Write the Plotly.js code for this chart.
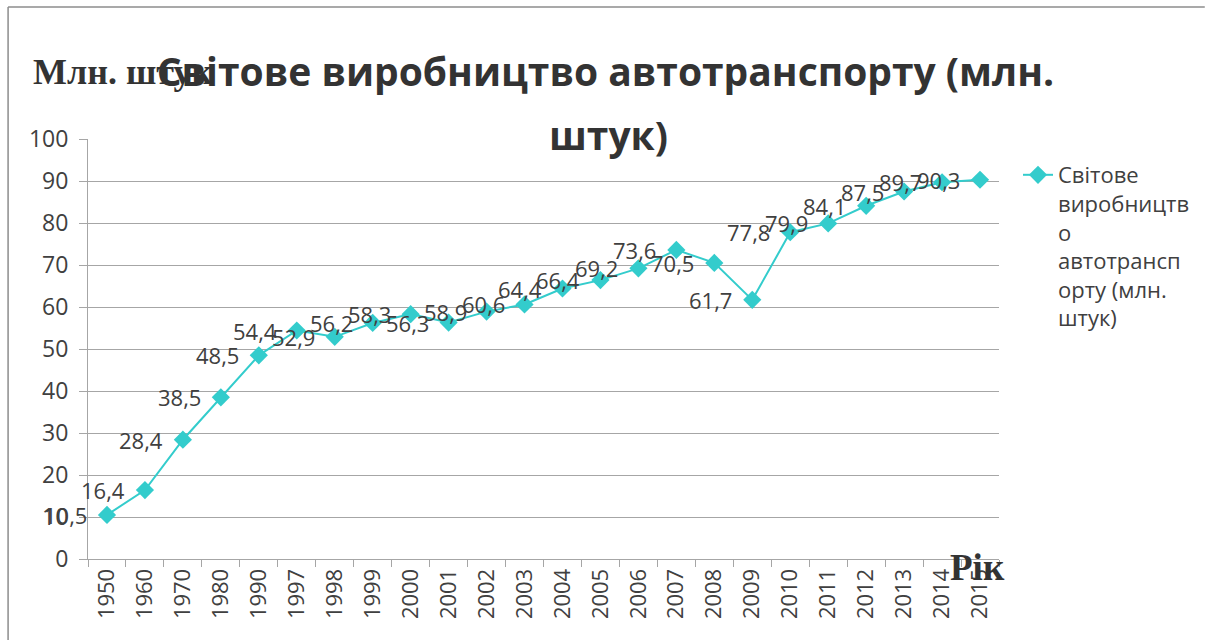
<!DOCTYPE html>
<html>
<head>
<meta charset="utf-8">
<script src="https://cdn.plot.ly/plotly-3.0.1.min.js"></script>
<style>html,body{margin:0;padding:0;background:#fff;}#chart{width:1206px;height:640px;}</style>
</head>
<body>
<div id="chart"></div>
<script>
const years = ['1950','1960','1970','1980','1990','1997','1998','1999','2000','2001','2002','2003','2004','2005','2006','2007','2008','2009','2010','2011','2012','2013','2014','2015'];
const production = [10.5,16.4,28.4,38.5,48.5,54.4,52.9,56.2,58.3,56.3,58.9,60.6,64.4,66.4,69.2,73.6,70.5,61.7,77.8,79.9,84.1,87.5,89.7,90.3];
const seriesName = 'Світове<br>виробництв<br>о<br>автотрансп<br>орту (млн.<br>штук)';
const titleLine1 = 'Світове виробництво автотранспорту (млн.';
const titleLine2 = 'штук)';
const yTitle = 'Млн. штук';
const xTitle = 'Рік';

const W = 1206, H = 640;
const L = 88, R = 1000, T = 139, B = 559;
const px2x = p => (p - L) / (R - L);
const px2y = p => (B - p) / (B - T);

const teal = '#33CCCC';
const txt = '#404040';
const grid = '#A6A6A6';
const sans = 'Open Sans, Noto Sans, sans-serif';
const serif = 'Liberation Serif, Times New Roman, serif';

const trace = {
  type: 'scatter', mode: 'lines+markers',
  x: years, y: production, name: seriesName,
  line: {color: teal, width: 2},
  marker: {symbol: 'diamond', size: 14, color: teal},
  hoverinfo: 'x+y'
};

// data labels: category index positions on the category axis
const labelAnns = years.map((yr, i) => ({
  x: i, y: production[i], xref: 'x', yref: 'y',
  text: String(production[i]).replace('.', ','),
  showarrow: false, xanchor: 'right', yanchor: 'middle', xshift: -18,
  font: {family: sans, size: 22, color: txt}
}));

const annotations = labelAnns.concat([
  {xref: 'paper', yref: 'paper', x: px2x(609), y: px2y(134), text: '<b>' + titleLine2 + '</b>', showarrow: false,
   xanchor: 'center', yanchor: 'middle', font: {family: sans, size: 39, color: '#333333'}},
  {xref: 'paper', yref: 'paper', x: px2x(31), y: px2y(72), text: '<b>' + yTitle + '</b>', showarrow: false,
   xanchor: 'left', yanchor: 'middle', font: {family: serif, size: 36, color: '#333333'}},
  {xref: 'paper', yref: 'paper', x: px2x(1008), y: px2y(567), text: '<b>' + xTitle + '</b>', showarrow: false,
   xanchor: 'right', yanchor: 'middle', font: {family: serif, size: 37, color: '#333333'}}
]);

const layout = {
  width: W, height: H,
  margin: {l: L, r: W - R, t: T, b: H - B, pad: 0},
  paper_bgcolor: '#ffffff', plot_bgcolor: '#ffffff',
  title: {text: '<b>' + titleLine1 + '</b>', x: 0.502, xanchor: 'center', y: 1 - 72 / H, yanchor: 'middle',
          font: {family: sans, size: 39, color: '#333333'}},
  showlegend: true,
  legend: {x: px2x(1018), xanchor: 'left', y: px2y(154), yanchor: 'top', valign: 'top',
           font: {family: sans, size: 22, color: txt}, bgcolor: 'rgba(0,0,0,0)', tracegroupgap: 0},
  xaxis: {type: 'category', range: [-0.5, years.length - 0.5], autorange: false,
          showgrid: false, showline: true, linecolor: grid, linewidth: 1,
          ticks: 'outside', tickson: 'boundaries', ticklen: 7, tickcolor: grid, tickangle: -90,
          tickfont: {family: sans, size: 22, color: txt}, zeroline: false, fixedrange: true},
  yaxis: {range: [0, 100], autorange: false, dtick: 10, showgrid: true, gridcolor: grid, gridwidth: 1,
          showline: true, linecolor: grid, linewidth: 1, ticks: 'outside', ticklen: 8, tickcolor: grid,
          ticklabelstandoff: 6,
          tickfont: {family: sans, size: 23, color: txt}, zeroline: false, fixedrange: true},
  annotations: annotations,
  shapes: [
    {type: 'line', xref: 'paper', yref: 'paper', x0: px2x(8), x1: px2x(1206), y0: px2y(7), y1: px2y(7),
     line: {color: '#8C8C8C', width: 1.5}},
    {type: 'line', xref: 'paper', yref: 'paper', x0: px2x(8), x1: px2x(8), y0: px2y(7), y1: px2y(640),
     line: {color: '#8C8C8C', width: 1.5}}
  ]
};

Plotly.newPlot('chart', [trace], layout, {displayModeBar: false});
</script>
</body>
</html>
